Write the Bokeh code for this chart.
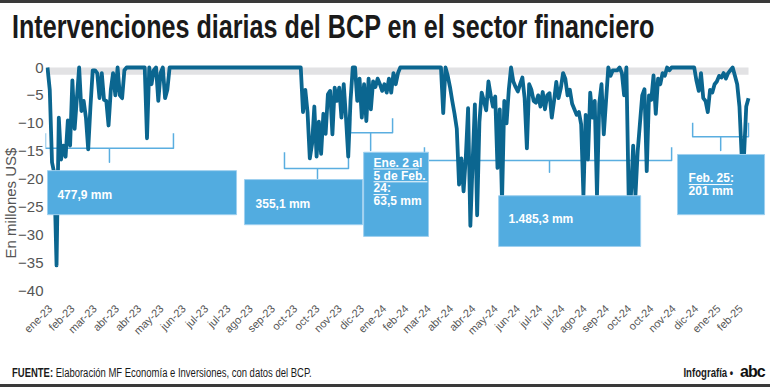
import math
from bokeh.plotting import figure
from bokeh.layouts import column, row
from bokeh.models import Range1d, FixedTicker, Label, BoxAnnotation, Div
from bokeh.embed import file_html
from bokeh.resources import INLINE

# ---------------- data ----------------
etiquetas_x = ["ene-23", "feb-23", "mar-23", "abr-23", "abr-23", "may-23", "jun-23", "jul-23",
               "jul-23", "ago-23", "sep-23", "oct-23", "oct-23", "nov-23", "dic-23", "ene-24",
               "feb-24", "mar-24", "abr-24", "abr-24", "may-24", "jun-24", "jul-24", "jul-24",
               "ago-24", "sep-24", "oct-24", "oct-24", "nov-24", "dic-24", "ene-25", "feb-25"]
y_ticks = [0, -5, -10, -15, -20, -25, -30, -35, -40]

# intervenciones diarias (millones US$), ene-23 .. feb-25
intervenciones = [
    0, -4, -17, -19, -35.5, -9, -16.5, -14, -16, -9.5,
    -14, -2.3, -11, -5.5, 0, -7.8, -6, -9, -14.7, -7,
    -0.5, -0.5, -1, -5.5, -1, -5.8, -6, -10.4, -4, -1,
    -5, 0, -5, -5.5, -0.5, 0, 0, 0, 0, 0,
    0, 0, 0, 0, -12.7, 0, -3, -0.5, 0, -6,
    -1, 0, -5.5, -4, 0, 0,
    0, 0, 0, 0, 0, 0, 0, 0, 0, 0,
    0, 0, 0, 0, 0, 0, 0, 0, 0, 0,
    0, 0, 0, 0, 0, 0, 0, 0, 0, 0,
    0, 0, 0, 0, 0, 0, 0, 0, 0, 0,
    0, 0, 0, 0, 0, 0, 0, 0, 0, 0,
    0, 0, 0, 0, 0, 0, 0,
    -8, -4, -8, -16.3, -13.7, -7, -16, -9.7, -15.5, -8.3,
    -11.9, -4.8, -4.2, -12, -3.6, -6, -3.6, -9, -3, -9,
    -16, -6, 0, 0, -6, -2, -9, -3, -9.6, -2,
    -7.5, -2.5, -3.5, -2, -3, -4.2, -3, -4.5, -2, -4.5,
    -1, -3, -1, 0, 0,
    0, 0, 0, 0, 0, 0, 0, 0, 0, 0,
    0, 0, 0, 0, 0, 0, 0,
    -8.2, 0, -1.5, -3.5, -6, -8.3, -11, -21, -16.3, -22.2,
    -16, -7.3, -28.4, -17, -6.6, -26.5, -9.8, -4.5, -6, -7.7,
    -2.5, -5, -7, -5.2, -18, -7.5, -24, -6, -10, -4,
    0, -2.5, -3.5, -4.3, -3, -1.8, -5.5, -14.5, -3, -4,
    -6, -6.3, -5, -7, -4.4, -7.5, -5, -4.6, -9, -6,
    -2.6, -5.5, -3.7, -1, -2, -5, -4, -6.5, -7.5, -8.5,
    -8, -10.2, -23, -8.5, -16.5, -4.5, -9, -6, -23, -6.5,
    -3, -12, -6, 0, -1.5, -0.5, -0.5, -0.5, 0, -1,
    -5, 0, -23, -23, -14, -23, -15, -10, -5, -3.9,
    -18.6, -5, -5.8, -1.4, -8.3, -2, -3, -1, -1.5, 0,
    -0.5, 0,
    0, 0, 0, 0, 0, 0, 0, 0, 0, 0,
    -2.4, -4.2, -1, -5.5, -6, -8, -4, -4.5, -3, -2.5,
    -1.5, -1.8, -1, -2, -1, -0.5, 0, -1.5, -3, -7,
    -16, -16, -7, -5.5,
]
dias = list(range(len(intervenciones)))

# ---------------- layout ----------------
W = 770
LEFT_W = 15                                 # strip holding the rotated y-axis title
WF = W - LEFT_W                             # figure width
H_TITLE, H_PLOT, H_FOOT = 50, 312, 25
FL, FT, FB = 30, 8, 248                     # frame edges (px inside the figure)
X0PX, Y0PX = 32, 17                         # pixel of first day / zero line (inside figure)
DX = 701 / (len(intervenciones) - 1)        # px per day
DY = 223 / 40                               # px per million
x_start = -(X0PX - FL) / DX
x_end = (WF - X0PX) / DX
y_end = (Y0PX - FT) / DY
y_start = -(FB - Y0PX) / DY
TICK0, TICK_STEP = 1.2, 9.85                # month label positions (in days)

LINE = "#0b6690"
BOX = "#52ace0"
BOXLINE = "#9fd0ef"
BRACKET = "#5aaee0"
GRAY = "#555555"
SANS = "Liberation Sans"

p = figure(width=WF, height=H_PLOT, x_range=Range1d(x_start, x_end), y_range=Range1d(y_start, y_end),
           min_border_left=FL, min_border_right=0, min_border_top=FT, min_border_bottom=H_PLOT - FB,
           output_backend="svg", toolbar_location=None, title=None)
p.outline_line_color = None
p.background_fill_color = "white"
p.border_fill_color = None
p.xgrid.visible = False
p.ygrid.visible = False

# axes
ticks = [TICK0 + i * TICK_STEP for i in range(len(etiquetas_x))]
p.xaxis.ticker = FixedTicker(ticks=ticks)
p.xaxis.major_label_overrides = {t: s for t, s in zip(ticks, etiquetas_x)}
p.xaxis.major_label_orientation = math.pi / 4
p.xaxis.major_label_text_font = SANS
p.xaxis.major_label_text_font_size = "11px"
p.xaxis.major_label_text_color = GRAY
p.xaxis.major_label_standoff = 8
p.yaxis.ticker = FixedTicker(ticks=y_ticks)
p.yaxis.major_label_text_font = SANS
p.yaxis.major_label_text_font_size = "15px"
p.yaxis.major_label_text_color = GRAY
p.yaxis.major_label_standoff = 2
for ax in (p.xaxis, p.yaxis):
    ax.axis_line_color = None
    ax.major_tick_line_color = None
    ax.minor_tick_line_color = None
    ax.major_tick_out = 0
    ax.major_tick_in = 0
    ax.minor_tick_out = 0
    ax.minor_tick_in = 0

# gray zero band
p.quad(left=dias[0], right=dias[-1], top=0, bottom=-1.3, fill_color="#e2e2e4", line_color=None)

# brackets (drawn below the line)
def llave(xl, xr, yl, ytop, xm, ytip):
    return [xl, xl, xm, xm, xm, xr, xr], [ytop, yl, yl, ytip, yl, yl, ytop]

llaves = [llave(-0.9, 55.7, -14.5, -11.8, 27.4, -17.0),
          llave(104.8, 133.1, -18.1, -15.2, 119.4, -19.9),
          llave(134.0, 152.6, -11.7, -9.1, 142.9, -14.9),
          llave(166.7, 276.0, -16.7, -14.3, 222.0, -18.8),
          llave(285.3, 310.0, -12.4, -9.9, 297.7, -14.9)]
p.multi_line(xs=[l[0] for l in llaves], ys=[l[1] for l in llaves], line_color=BRACKET,
             line_width=1.5, line_join="round")

# data line
p.line(dias, intervenciones, line_color=LINE, line_width=3.8, line_join="round")

# boxes
cajas = [(0.0, 83.6, -18.5, -26.4), (87.1, 139.3, -20.1, -28.2), (139.8, 168.5, -15.2, -30.3),
         (199.5, 262.3, -23.0, -32.1), (278.6, 317.1, -15.6, -26.4)]
for l, r, t, b in cajas:
    p.add_layout(BoxAnnotation(left=l, right=r, top=t, bottom=b, fill_color=BOX, fill_alpha=1,
                               line_color=BOXLINE, line_width=1, line_alpha=1, line_dash="solid"))

def txt(x, y, s, size="12px"):
    p.add_layout(Label(x=x, y=y, text=s, text_color="white", text_font=SANS,
                       text_font_size=size, text_font_style="bold", text_baseline="middle"))

txt(4.4, -22.8, "477,9 mm")
txt(92.0, -24.4, "355,1 mm")
txt(144.2, -17.2, "Ene. 2 al")
txt(144.2, -19.4, "5 de Feb.")
txt(144.2, -21.7, "24:")
txt(144.2, -24.0, "63,5 mm")
txt(203.9, -27.1, "1.485,3 mm")
txt(283.5, -19.9, "Feb. 25:")
txt(283.5, -22.1, "201 mm")

und = p.segment(x0=[144.2, 144.2, 144.2, 283.5], x1=[164.1, 168.0, 150.8, 302.8],
                y0=[-18.2, -20.5, -22.8, -21.0], y1=[-18.2, -20.5, -22.8, -21.0],
                line_color="white", line_width=1)
und.level = "overlay"

# ---------------- texts around the chart ----------------
titulo = "Intervenciones diarias del BCP en el sector financiero"
eje_y = "En millones US$"
fuente_1 = "FUENTE:"
fuente_2 = "Elaboración MF Economía e Inversiones, con datos del BCP."
credito = "Infografía •"
logo = "abc"

title_html = (
    f'<div style="position:relative;width:{W}px;height:{H_TITLE}px;overflow:hidden;">'
    f'<div style="position:absolute;left:0;top:0;width:{W}px;height:3px;background:#3a3a3a;"></div>'
    f'<div style="position:absolute;left:12px;top:8px;white-space:nowrap;'
    f'font-family:\'Liberation Sans\';font-weight:bold;font-size:33px;line-height:37px;'
    f'color:#1a1a1a;transform:scaleX(0.762);transform-origin:0 0;">{titulo}</div>'
    f'</div>')
ylab_html = (
    f'<div style="position:relative;width:{LEFT_W}px;height:{H_PLOT}px;overflow:visible;">'
    f'<div style="position:absolute;left:10px;top:153px;white-space:nowrap;'
    f'font-family:\'Liberation Sans\';font-size:15px;line-height:17px;color:{GRAY};'
    f'transform:translate(-50%,-50%) rotate(-90deg);">{eje_y}</div>'
    f'</div>')
foot_html = (
    f'<div style="position:relative;width:{W}px;height:{H_FOOT}px;overflow:hidden;">'
    f'<div style="position:absolute;left:12px;top:4px;white-space:nowrap;'
    f'font-family:\'Liberation Sans\';font-size:12px;line-height:14px;color:#1a1a1a;'
    f'transform:scaleX(0.79);transform-origin:0 0;"><b>{fuente_1}</b> {fuente_2}</div>'
    f'<div style="position:absolute;right:37px;top:4px;white-space:nowrap;'
    f'font-family:\'Liberation Sans\';font-weight:bold;font-size:12px;line-height:14px;color:#1a1a1a;'
    f'transform:scaleX(0.8);transform-origin:100% 0;">{credito}</div>'
    f'<div style="position:absolute;left:740px;top:1px;white-space:nowrap;'
    f'font-family:\'Liberation Sans\';font-weight:bold;font-size:16px;line-height:18px;color:#111;'
    f'letter-spacing:-1px;">{logo}</div>'
    f'<div style="position:absolute;left:0;top:{H_FOOT - 3}px;width:{W}px;height:3px;background:#3a3a3a;"></div>'
    f'</div>')

title_div = Div(text=title_html, width=W, height=H_TITLE, margin=(0, 0, 0, 0))
ylab_div = Div(text=ylab_html, width=LEFT_W, height=H_PLOT, margin=(0, 0, 0, 0))
foot_div = Div(text=foot_html, width=W, height=H_FOOT, margin=(0, 0, 0, 0))

page = column(title_div, row(ylab_div, p, spacing=0), foot_div, spacing=0)

open("out.html", "w").write(file_html(page, INLINE))
